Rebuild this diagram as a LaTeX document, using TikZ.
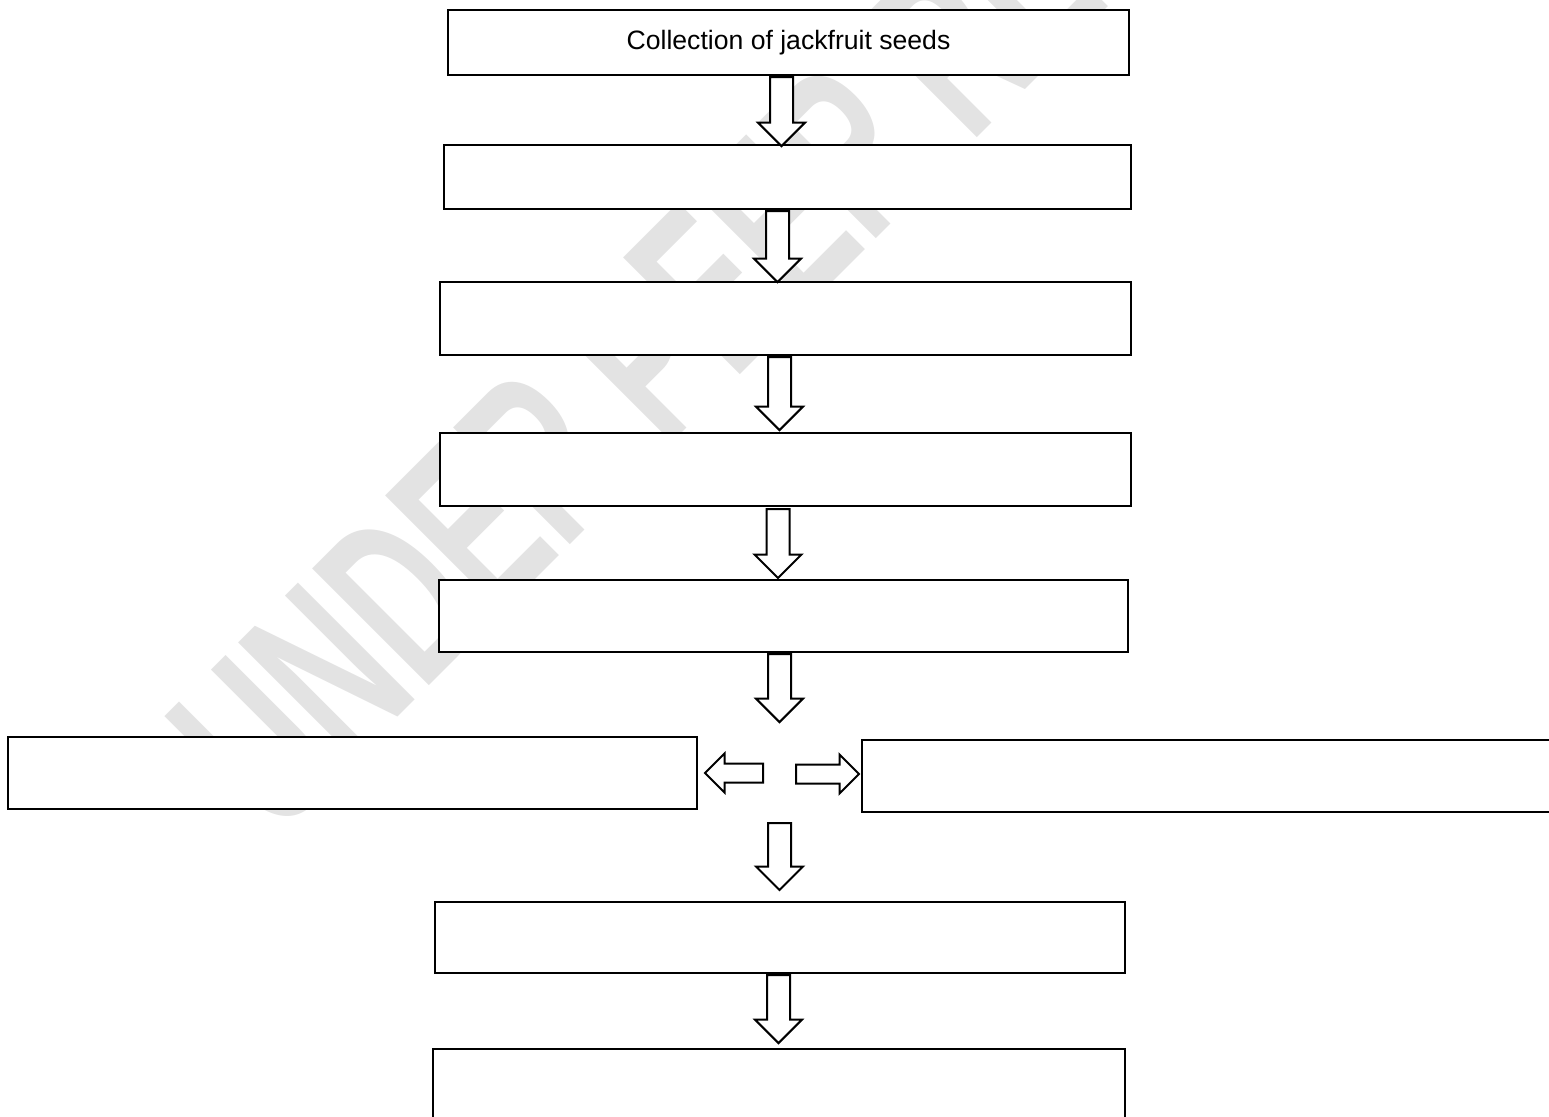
\documentclass[tikz,border=0pt]{standalone}
\usepackage{fontspec}
\setmainfont{Liberation Sans}
\usepackage{xcolor}
\usepackage{tikz}
\usetikzlibrary{positioning}
\usetikzlibrary{shapes,arrows}
\usetikzlibrary{calc}

\begin{document}
\begin{tikzpicture}
    [%%%%%%%%%%%%%%%%%%%%%%%%%%%%%%
        x=1pt, y=-1pt,
        stage/.style={rectangle,draw=black,line width=2.2pt,fill=white,minimum width=690pt,minimum height=72pt,inner sep=0pt,font=\fontsize{26.6}{30}\selectfont},
        downarrow/.style={single arrow,draw=black,line width=2pt,fill=white,rotate=-90,anchor=tail,minimum width=45pt,single arrow head extend=12pt,inner sep=10.5pt},
        sidearrow/.style={single arrow,draw=black,line width=2pt,fill=white,anchor=tail,minimum width=37pt,single arrow head extend=10pt,inner sep=8.5pt}
    ]%%%%%%%%%%%%%%%%%%%%%%%%%%%%%%
\definecolor{markgray}{gray}{0.89}
\useasboundingbox (0,0) rectangle (1549,1116);
\clip (0,0) rectangle (1549,1116);

% watermark
\node[rotate=45, anchor=base west, inner sep=0pt, text=markgray, font=\fontsize{240}{240}\selectfont\bfseries] (mark) at (275,840) {\scalebox{0.6}[1]{UNDER PEER REVIEW}};

% boxes
\node[stage, minimum width=681pt, minimum height=65pt] (b1) at (788.5,42.5) {Collection of jackfruit seeds};
\node[stage, minimum width=687pt, minimum height=64pt] (b2) at (787.5,177) {};
\node[stage, minimum width=691pt, minimum height=73pt] (b3) at (785.5,318.5) {};
\node[stage, minimum width=691pt, minimum height=73pt] (b4) at (785.5,469.5) {};
\node[stage, minimum width=689pt] (b5) at (783.5,616) {};
\node[stage, minimum width=689pt] (bl) at (352.5,773) {};
\node[stage] (br) at (1207,776) {};
\node[stage, minimum height=71pt] (b6) at (780,937.5) {};
\node[stage, minimum width=692pt] (b7) at (779,1085) {};

% arrows
\node[downarrow, minimum height=69pt] (a1) at (781.5,0 |- b1.south) {};
\node[downarrow, minimum height=71pt] (a2) at (777.5,0 |- b2.south) {};
\node[downarrow, minimum height=73pt] (a3) at (779.5,0 |- b3.south) {};
\node[downarrow, minimum height=69pt] (a4) at (778,508) {};
\node[downarrow, minimum height=68pt] (a5) at (779.5,0 |- b5.south) {};
\node[sidearrow, rotate=180, minimum height=58pt] (al) at (764,0 |- bl.east) {};
\node[sidearrow, minimum height=63pt] (ar) at (795,774) {};
\node[downarrow, minimum height=67pt] (a6) at (779.5,822) {};
\node[downarrow, minimum height=68pt] (a7) at (778.5,0 |- b6.south) {};

\end{tikzpicture}
\end{document}
